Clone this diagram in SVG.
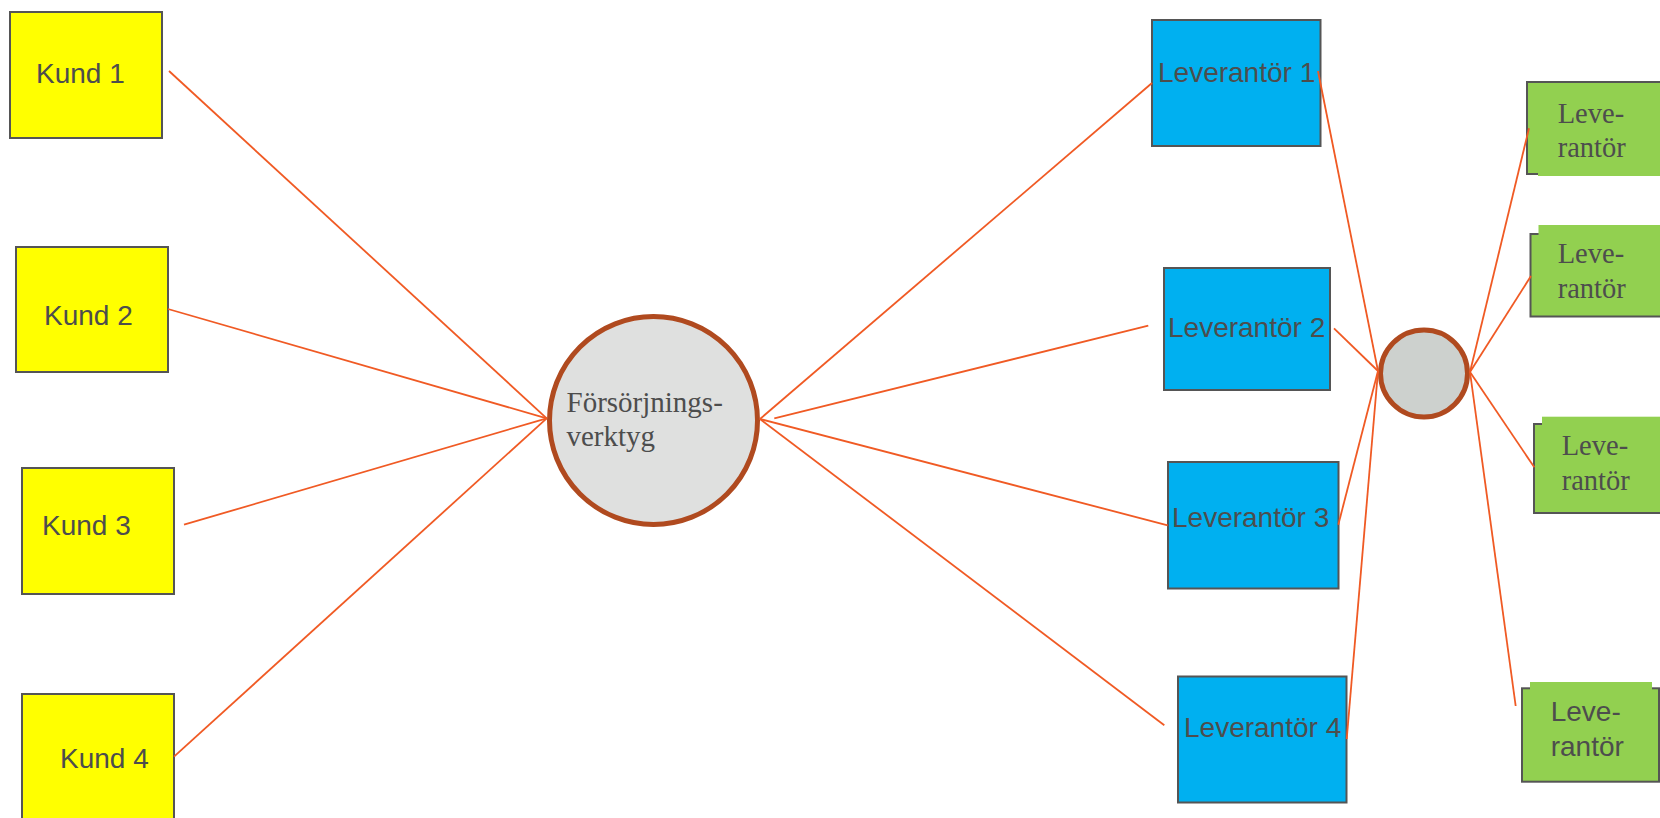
<svg xmlns="http://www.w3.org/2000/svg" width="1660" height="818" viewBox="0 0 1660 818">
<style>
.box{stroke:#555;stroke-width:2}
.kund{fill:#FFFF00}
.lev{fill:#00B0F0}
.grn{fill:#92D050}
.hub{stroke:#B04A1F;stroke-width:5}
.t{font-family:"Liberation Sans",Arial,sans-serif;font-size:28px;fill:#4D4D4D}
.s{font-family:"Liberation Serif","Times New Roman",serif;fill:#4D4D4D}
#connectors line{stroke:#F05A24;stroke-width:1.8}
</style>
<rect width="1660" height="818" fill="#fff"/>
<g id="kund1"><rect class="box kund" x="10" y="12" width="152" height="126"/><text class="t" x="36" y="83">Kund 1</text></g>
<g id="kund2"><rect class="box kund" x="16" y="247" width="152" height="125"/><text class="t" x="44" y="325">Kund 2</text></g>
<g id="kund3"><rect class="box kund" x="22" y="468" width="152" height="126"/><text class="t" x="42" y="535">Kund 3</text></g>
<g id="kund4"><rect class="box kund" x="22" y="694" width="152" height="135"/><text class="t" x="60" y="768">Kund 4</text></g>
<g id="verktyg"><circle class="hub" cx="653.5" cy="420.5" r="104" fill="#DFE0DF"/><text class="s" font-size="29" x="566.5" y="411.5">Försörjnings-</text><text class="s" font-size="29" x="566.5" y="445.5">verktyg</text></g>
<g id="lev1"><rect class="box lev" x="1152" y="20" width="168.5" height="126"/><text class="t" x="1158" y="82">Leverantör 1</text></g>
<g id="lev2"><rect class="box lev" x="1164" y="268" width="166" height="122"/><text class="t" x="1168" y="337">Leverantör 2</text></g>
<g id="lev3"><rect class="box lev" x="1168" y="462" width="170.5" height="126.5"/><text class="t" x="1172" y="527">Leverantör 3</text></g>
<g id="lev4"><rect class="box lev" x="1178" y="676.5" width="168.5" height="126"/><text class="t" x="1184" y="737">Leverantör 4</text></g>
<g id="hub2"><circle class="hub" cx="1424" cy="373.5" r="43.5" fill="#CDD1CE"/></g>
<g id="glev1"><rect class="box grn" x="1527" y="82" width="140" height="92"/><rect class="grn" x="1538" y="83.5" width="130" height="92.5"/><text class="s" font-size="28.5" x="1557.7" y="122.7">Leve-</text><text class="s" font-size="28.5" x="1557.7" y="157.3">rantör</text></g>
<g id="glev2"><rect class="box grn" x="1530.5" y="234" width="140" height="82.5"/><rect class="grn" x="1538.5" y="225" width="130" height="90"/><text class="s" font-size="28.5" x="1557.7" y="262.7">Leve-</text><text class="s" font-size="28.5" x="1557.7" y="297.7">rantör</text></g>
<g id="glev3"><rect class="box grn" x="1534" y="424" width="140" height="89"/><rect class="grn" x="1542" y="416.7" width="130" height="95.3"/><text class="s" font-size="28.5" x="1561.7" y="455">Leve-</text><text class="s" font-size="28.5" x="1561.7" y="489.5">rantör</text></g>
<g id="glev4"><rect class="box grn" x="1522" y="688.3" width="137" height="93.4"/><rect class="grn" x="1530" y="682" width="122" height="97"/><text class="t" x="1550.7" y="720.7">Leve-</text><text class="t" x="1550.7" y="756">rantör</text></g>
<g id="connectors">
<line x1="169" y1="71" x2="546.7" y2="418.3"/>
<line x1="168" y1="309" x2="546.7" y2="418.3"/>
<line x1="184" y1="524.7" x2="546.7" y2="418.3"/>
<line x1="174" y1="756.7" x2="546.7" y2="418.3"/>
<line x1="760" y1="419" x2="1152" y2="83"/>
<line x1="774.3" y1="418.3" x2="1148.3" y2="325.7"/>
<line x1="760" y1="419" x2="1167.7" y2="525.3"/>
<line x1="760" y1="419" x2="1164.3" y2="725.3"/>
<line x1="1318" y1="71" x2="1378" y2="371"/>
<line x1="1334" y1="328.3" x2="1378" y2="371"/>
<line x1="1338.3" y1="524.7" x2="1378" y2="371"/>
<line x1="1346.7" y1="739" x2="1378" y2="371"/>
<line x1="1470" y1="372" x2="1529" y2="128.3"/>
<line x1="1470" y1="372" x2="1531" y2="276"/>
<line x1="1470" y1="372" x2="1534.3" y2="467.3"/>
<line x1="1470" y1="372" x2="1515.7" y2="706"/>
</g>
</svg>
